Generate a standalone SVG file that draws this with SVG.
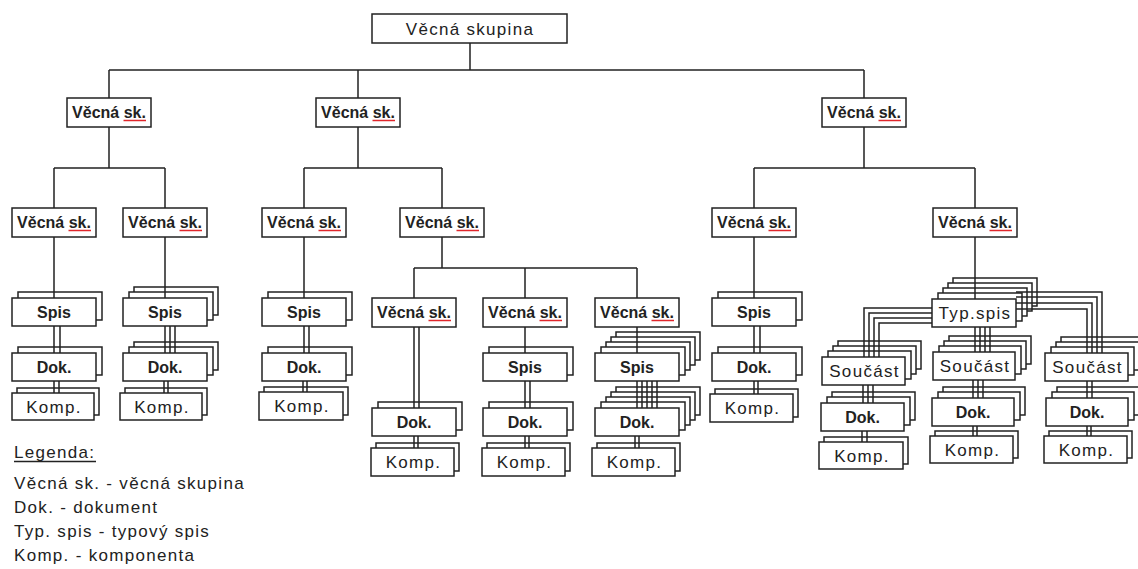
<svg xmlns="http://www.w3.org/2000/svg" width="1138" height="569" viewBox="0 0 1138 569">
<style>
.box{fill:#fff;stroke:#222;stroke-width:1.5}
.b{font-family:"Liberation Sans",Arial,sans-serif;font-size:16px;font-weight:bold;fill:#222;text-anchor:middle}
.r{font-family:"Liberation Sans",Arial,sans-serif;font-size:17px;fill:#222;text-anchor:middle;letter-spacing:1.3px}
.lg{font-family:"Liberation Sans",Arial,sans-serif;font-size:17px;fill:#222;letter-spacing:1.3px}
.sp{stroke:#e0262b;stroke-width:1.5;fill:none}
.ln{stroke:#222;stroke-width:1.5;fill:none}
</style>
<rect width="1138" height="569" fill="#fff"/>
<g id="nodes">
<g id="n-root"><rect class="box" x="372" y="14" width="195" height="29"/><text class="r" x="470" y="34.5">Věcná skupina</text></g>
<g id="n-a"><rect class="box" x="67" y="98" width="84" height="29"/><text class="b" x="109" y="118">Věcná sk.</text><path class="sp" d="M123.5,120.5H146"/></g>
<g id="n-b"><rect class="box" x="316" y="98" width="84" height="29"/><text class="b" x="358" y="118">Věcná sk.</text><path class="sp" d="M372.5,120.5H395"/></g>
<g id="n-c"><rect class="box" x="822" y="98" width="84" height="29"/><text class="b" x="864" y="118">Věcná sk.</text><path class="sp" d="M878.5,120.5H901"/></g>
<g id="n-a1"><rect class="box" x="12" y="208" width="84" height="29"/><text class="b" x="54" y="228">Věcná sk.</text><path class="sp" d="M68.5,230.5H91"/></g>
<g id="n-a2"><rect class="box" x="123" y="208" width="84" height="29"/><text class="b" x="165" y="228">Věcná sk.</text><path class="sp" d="M179.5,230.5H202"/></g>
<g id="n-b1"><rect class="box" x="262" y="208" width="84" height="29"/><text class="b" x="304" y="228">Věcná sk.</text><path class="sp" d="M318.5,230.5H341"/></g>
<g id="n-b2"><rect class="box" x="400" y="208" width="84" height="29"/><text class="b" x="442" y="228">Věcná sk.</text><path class="sp" d="M456.5,230.5H479"/></g>
<g id="n-c1"><rect class="box" x="712" y="208" width="84" height="29"/><text class="b" x="754" y="228">Věcná sk.</text><path class="sp" d="M768.5,230.5H791"/></g>
<g id="n-c2"><rect class="box" x="933" y="208" width="84" height="29"/><text class="b" x="975" y="228">Věcná sk.</text><path class="sp" d="M989.5,230.5H1012"/></g>
<g id="n-b2a"><rect class="box" x="372" y="298" width="84" height="29"/><text class="b" x="414" y="318">Věcná sk.</text><path class="sp" d="M428.5,320.5H451"/></g>
<g id="n-b2b"><rect class="box" x="483" y="298" width="84" height="29"/><text class="b" x="525" y="318">Věcná sk.</text><path class="sp" d="M539.5,320.5H562"/></g>
<g id="n-b2c"><rect class="box" x="595" y="298" width="84" height="29"/><text class="b" x="637" y="318">Věcná sk.</text><path class="sp" d="M651.5,320.5H674"/></g>

<g id="n-a1-spis"><rect class="box" x="18" y="292" width="84" height="28"/><rect class="box" x="12" y="298" width="84" height="28"/><text class="b" x="54" y="317.5">Spis</text></g>
<g id="n-a2-spis"><rect class="box" x="134" y="287" width="84" height="28"/><rect class="box" x="129" y="292" width="84" height="28"/><rect class="box" x="123" y="298" width="84" height="28"/><text class="b" x="165" y="317.5">Spis</text></g>
<g id="n-b1-spis"><rect class="box" x="268" y="292" width="84" height="28"/><rect class="box" x="262" y="298" width="84" height="28"/><text class="b" x="304" y="317.5">Spis</text></g>
<g id="n-c1-spis"><rect class="box" x="718" y="292" width="84" height="28"/><rect class="box" x="712" y="298" width="84" height="28"/><text class="b" x="754" y="317.5">Spis</text></g>
<g id="n-b2b-spis"><rect class="box" x="489" y="347" width="84" height="28"/><rect class="box" x="483" y="353" width="84" height="28"/><text class="b" x="525" y="372.5">Spis</text></g>
<g id="n-b2c-spis"><rect class="box" x="616" y="332" width="84" height="28"/><rect class="box" x="611" y="337" width="84" height="28"/><rect class="box" x="606" y="342" width="84" height="28"/><rect class="box" x="601" y="347" width="84" height="28"/><rect class="box" x="595" y="353" width="84" height="28"/><text class="b" x="637" y="372.5">Spis</text></g>
<g id="n-typ"><rect class="box" x="953" y="278" width="84" height="28"/><rect class="box" x="948" y="283" width="84" height="28"/><rect class="box" x="943" y="288" width="84" height="28"/><rect class="box" x="938" y="293" width="84" height="28"/><rect class="box" x="932" y="299" width="84" height="28"/><text class="r" x="975" y="319">Typ.spis</text></g>

<g id="n-a1-dok"><rect class="box" x="18" y="347" width="84" height="28"/><rect class="box" x="12" y="353" width="84" height="28"/><text class="b" x="54" y="372.5">Dok.</text></g>
<g id="n-a2-dok"><rect class="box" x="134" y="342" width="84" height="28"/><rect class="box" x="129" y="347" width="84" height="28"/><rect class="box" x="123" y="353" width="84" height="28"/><text class="b" x="165" y="372.5">Dok.</text></g>
<g id="n-b1-dok"><rect class="box" x="268" y="347" width="84" height="28"/><rect class="box" x="262" y="353" width="84" height="28"/><text class="b" x="304" y="372.5">Dok.</text></g>
<g id="n-c1-dok"><rect class="box" x="718" y="347" width="84" height="28"/><rect class="box" x="712" y="353" width="84" height="28"/><text class="b" x="754" y="372.5">Dok.</text></g>
<g id="n-b2a-dok"><rect class="box" x="378" y="402" width="84" height="28"/><rect class="box" x="372" y="408" width="84" height="28"/><text class="b" x="414" y="427.5">Dok.</text></g>
<g id="n-b2b-dok"><rect class="box" x="489" y="402" width="84" height="28"/><rect class="box" x="483" y="408" width="84" height="28"/><text class="b" x="525" y="427.5">Dok.</text></g>
<g id="n-b2c-dok"><rect class="box" x="616" y="387" width="84" height="28"/><rect class="box" x="611" y="392" width="84" height="28"/><rect class="box" x="606" y="397" width="84" height="28"/><rect class="box" x="601" y="402" width="84" height="28"/><rect class="box" x="595" y="408" width="84" height="28"/><text class="b" x="637" y="427.5">Dok.</text></g>

<g id="n-s1"><rect class="box" x="838" y="341" width="83" height="28"/><rect class="box" x="833" y="346" width="83" height="28"/><rect class="box" x="828" y="351" width="83" height="28"/><rect class="box" x="822" y="357" width="83" height="28"/><text class="r" x="864.5" y="377">Součást</text></g>
<g id="n-s2"><rect class="box" x="949" y="336" width="82" height="28"/><rect class="box" x="944" y="341" width="82" height="28"/><rect class="box" x="939" y="346" width="82" height="28"/><rect class="box" x="933" y="352" width="82" height="28"/><text class="r" x="975" y="372">Součást</text></g>
<g id="n-s3"><rect class="box" x="1061" y="337" width="83" height="28"/><rect class="box" x="1056" y="342" width="83" height="28"/><rect class="box" x="1051" y="347" width="83" height="28"/><rect class="box" x="1045" y="353" width="83" height="28"/><text class="r" x="1087.5" y="373">Součást</text></g>

<g id="n-s1-dok"><rect class="box" x="832" y="392" width="83" height="28"/><rect class="box" x="827" y="397" width="83" height="28"/><rect class="box" x="821" y="403" width="83" height="28"/><text class="b" x="862.5" y="422.5">Dok.</text></g>
<g id="n-s2-dok"><rect class="box" x="943" y="387" width="82" height="28"/><rect class="box" x="938" y="392" width="82" height="28"/><rect class="box" x="932" y="398" width="82" height="28"/><text class="b" x="973" y="417.5">Dok.</text></g>
<g id="n-s3-dok"><rect class="box" x="1057" y="387" width="82" height="28"/><rect class="box" x="1052" y="392" width="82" height="28"/><rect class="box" x="1046" y="398" width="82" height="28"/><text class="b" x="1087" y="417.5">Dok.</text></g>

<g id="n-a1-komp"><rect class="box" x="17" y="388" width="82" height="27"/><rect class="box" x="12" y="393" width="82" height="27"/><text class="r" x="54" y="412.5">Komp.</text></g>
<g id="n-a2-komp"><rect class="box" x="125" y="388" width="82" height="27"/><rect class="box" x="120" y="393" width="82" height="27"/><text class="r" x="162" y="412.5">Komp.</text></g>
<g id="n-b1-komp"><rect class="box" x="264" y="387" width="84" height="28"/><rect class="box" x="259" y="392" width="84" height="28"/><text class="r" x="302" y="412">Komp.</text></g>
<g id="n-c1-komp"><rect class="box" x="715" y="389" width="83" height="28"/><rect class="box" x="710" y="394" width="83" height="28"/><text class="r" x="752.5" y="414">Komp.</text></g>
<g id="n-b2a-komp"><rect class="box" x="376" y="443" width="83" height="28"/><rect class="box" x="371" y="448" width="83" height="28"/><text class="r" x="413.5" y="468">Komp.</text></g>
<g id="n-b2b-komp"><rect class="box" x="487" y="443" width="83" height="28"/><rect class="box" x="482" y="448" width="83" height="28"/><text class="r" x="524.5" y="468">Komp.</text></g>
<g id="n-b2c-komp"><rect class="box" x="597" y="443" width="83" height="28"/><rect class="box" x="592" y="448" width="83" height="28"/><text class="r" x="634.5" y="468">Komp.</text></g>
<g id="n-s1-komp"><rect class="box" x="824" y="437" width="84" height="27"/><rect class="box" x="819" y="442" width="84" height="27"/><text class="r" x="862" y="461.5">Komp.</text></g>
<g id="n-s2-komp"><rect class="box" x="935" y="431" width="83" height="27"/><rect class="box" x="930" y="436" width="83" height="27"/><text class="r" x="972.5" y="455.5">Komp.</text></g>
<g id="n-s3-komp"><rect class="box" x="1049" y="431" width="83" height="27"/><rect class="box" x="1044" y="436" width="83" height="27"/><text class="r" x="1086.5" y="455.5">Komp.</text></g>
</g>

<g id="connectors">
<path class="ln" d="M470,43V70M109,70H864M109,70V98M358,70V98M864,70V98"/>
<path class="ln" d="M109,127V168M54,168H165M54,168V208M165,168V208"/>
<path class="ln" d="M358,127V168M304,168H442M304,168V208M442,168V208"/>
<path class="ln" d="M864,127V168M754,168H975M754,168V208M975,168V208"/>
<path class="ln" d="M54,237V298M54,326V353M60,326V353M54,381V393M59,381V393"/>
<path class="ln" d="M165,237V298M165,326V353M170,326V353M175,326V353M164,381V393M168,381V393"/>
<path class="ln" d="M304,237V298M304,326V353M309,326V353M303,381V392M307,381V392"/>
<path class="ln" d="M442,237V268M414,268H637M414,268V298M525,268V298M637,268V298"/>
<path class="ln" d="M414,327V408M419,327V408M414,436V448M418,436V448"/>
<path class="ln" d="M525,327V353M525,381V408M530,381V408M525,436V448M529,436V448"/>
<path class="ln" d="M637,327V353M637,381V408M642,381V408M647,381V408M652,381V408M657,381V408M635,436V448M639,436V448"/>
<path class="ln" d="M754,237V298M754,326V353M760,326V353M754,381V394M758,381V394"/>
<path class="ln" d="M975,237V299"/>
<path class="ln" d="M932,308H864V357M932,313H869V357M932,318H874V357M932,323H879V357"/>
<path class="ln" d="M975,327V352M980,327V352M985,327V352M990,327V352"/>
<path class="ln" d="M1016,292H1102V353M1016,297H1097V353M1016,303H1092V353M1016,309H1087V353"/>
<path class="ln" d="M863,385V403M868,385V403M873,385V403M862,431V442M867,431V442"/>
<path class="ln" d="M973,380V398M978,380V398M983,380V398M973,426V436M977,426V436"/>
<path class="ln" d="M1087,381V398M1092,381V398M1087,426V436M1091,426V436"/>
</g>

<g id="legend">
<text class="lg" x="14" y="458">Legenda:</text>
<path class="ln" stroke-width="1.2" d="M14,461.5H96"/>
<text class="lg" x="14" y="489">Věcná sk. - věcná skupina</text>
<text class="lg" x="14" y="513">Dok. - dokument</text>
<text class="lg" x="14" y="537">Typ. spis - typový spis</text>
<text class="lg" x="14" y="561">Komp. - komponenta</text>
</g>
</svg>
